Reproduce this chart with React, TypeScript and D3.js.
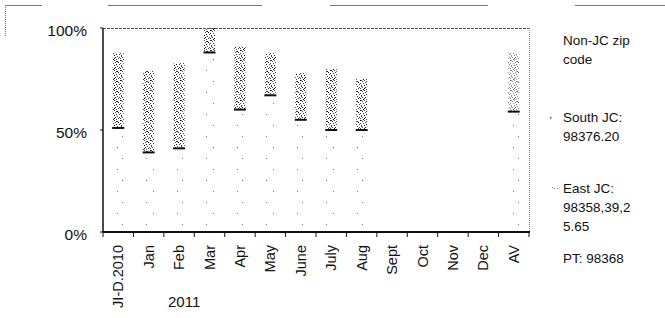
import React from "react";
import * as d3 from "d3";

const categories = ["JI-D.2010", "Jan", "Feb", "Mar", "Apr", "May", "June", "July", "Aug", "Sept", "Oct", "Nov", "Dec", "AV"];
// stacked shares in %, bottom to top
const pt = [1, 1, 1, 1, 1, 1, 1, 1, 1, 0, 0, 0, 0, 1];
const eastJC = [50, 38, 40, 87, 59, 66, 54, 49, 49, 0, 0, 0, 0, 58];
const southJC = [37, 40, 42, 12, 31, 21, 23, 30, 25, 0, 0, 0, 0, 29];
const nonJC = [12, 21, 17, 0, 9, 12, 22, 20, 25, 0, 0, 0, 0, 12];
const yTicks = [0, 50, 100];

const keys = ["PT", "East JC", "South JC", "Non-JC"];
const rows = categories.map((c, i) => ({
  cat: c,
  "PT": pt[i],
  "East JC": eastJC[i],
  "South JC": southJC[i],
  "Non-JC": nonJC[i],
}));

const W = 665, H = 318;
const left = 103, right = 529, top = 28, bottom = 232;
const font = "'Liberation Sans', Arial, sans-serif";

// speckle dots for the scanned fills
const speckle = [
  [0, 0], [1, 0], [4, 0], [7, 1], [2, 1], [5, 2], [8, 2], [0, 3], [3, 3], [6, 4], [9, 4], [1, 5], [4, 5],
  [7, 6], [2, 7], [5, 7], [8, 8], [0, 8], [3, 9], [6, 9], [9, 7], [4, 8], [1, 6], [6, 1],
];
const sparse = [[2, 4], [9, 15]];

const fills: Record<string, string> = {
  "PT": "#ffffff",
  "East JC": "url(#sparse)",
  "South JC": "url(#speckle)",
  "Non-JC": "#ffffff",
};

export default function App() {
  const x = d3.scaleBand().domain(categories).range([left, right]);
  const y = d3.scaleLinear().domain([0, 100]).range([bottom, top]);
  const stacked = d3.stack<any>().keys(keys)(rows);
  const bw = 11;

  const legend = [
    { key: "Non-JC", lines: ["Non-JC zip", "code"], y: 45 },
    { key: "South JC", lines: ["South JC:", "98376.20"], y: 122 },
    { key: "East JC", lines: ["East JC:", "98358,39,2", "5.65"], y: 193 },
    { key: "PT", lines: ["PT: 98368"], y: 263 },
  ];

  return (
    <svg width={W} height={H} style={{ position: "absolute", left: 0, top: 0, background: "#fff" }}>
      <defs>
        <pattern id="speckle" width={10} height={10} patternUnits="userSpaceOnUse">
          {speckle.map(([a, b], i) => (
            <rect key={i} x={a} y={b} width={1} height={1} fill={i % 3 === 0 ? "#111" : "#444"} />
          ))}
        </pattern>
        <pattern id="sparse" width={12} height={22} patternUnits="userSpaceOnUse">
          {sparse.map(([a, b], i) => (
            <rect key={i} x={a} y={b} width={1} height={1} fill="#777" />
          ))}
        </pattern>
      </defs>

      {/* scanned frame fragments */}
      <g stroke="#777" strokeWidth={1}>
        <line x1={5} x2={42} y1={5.5} y2={5.5} />
        <line x1={5.5} x2={5.5} y1={5} y2={36} strokeDasharray="1 1" />
        <line x1={108} x2={262} y1={5.5} y2={5.5} />
        <line x1={330} x2={488} y1={5.5} y2={5.5} />
        <line x1={575} x2={665} y1={5.5} y2={5.5} />
      </g>

      {/* bars */}
      {stacked.map((s) => (
        <g key={s.key}>
          {s.map((d, i) => {
            const v = d[1] - d[0];
            if (v <= 0) return null;
            const cx = (x(categories[i]) as number) + x.bandwidth() / 2;
            return (
              <rect
                key={i}
                x={cx - bw / 2}
                y={y(d[1])}
                width={bw}
                height={y(d[0]) - y(d[1])}
                fill={fills[s.key]}
                opacity={categories[i] === "AV" && s.key === "South JC" ? 0.6 : 1}
              />
            );
          })}
        </g>
      ))}
      {/* dark edge at bottom of South JC segment */}
      {stacked[2].map((d, i) => {
        if (d[1] - d[0] <= 0) return null;
        const cx = (x(categories[i]) as number) + x.bandwidth() / 2;
        return <line key={i} x1={cx - 6} x2={cx + 6} y1={y(d[0])} y2={y(d[0])} stroke="#111" strokeWidth={2} />;
      })}

      {/* plot border */}
      <line x1={left} x2={right} y1={top + 0.5} y2={top + 0.5} stroke="#555" strokeDasharray="3 1" />
      <line x1={right + 0.5} x2={right + 0.5} y1={top} y2={bottom} stroke="#888" strokeDasharray="1 1" />

      {/* y axis */}
      <line x1={left} x2={left} y1={top} y2={bottom} stroke="#111" strokeWidth={1.5} />
      {yTicks.map((t) => (
        <g key={t}>
          <line x1={left - 3} x2={left} y1={y(t)} y2={y(t)} stroke="#111" />
          <text x={87} y={y(t) + 8} textAnchor="end" fontFamily={font} fontSize={15.5} fill="#111">
            {t}%
          </text>
        </g>
      ))}

      {/* x axis */}
      <line x1={left} x2={right + 1} y1={bottom} y2={bottom} stroke="#111" strokeWidth={2} />
      {categories.map((c, i) => {
        const x0 = x(c) as number;
        const cx = x0 + x.bandwidth() / 2;
        return (
          <g key={c}>
            <line x1={x0} x2={x0} y1={bottom} y2={bottom + 5} stroke="#111" />
            {i === categories.length - 1 && (
              <line x1={right} x2={right} y1={bottom} y2={bottom + 5} stroke="#111" />
            )}
            <text
              transform={`translate(${cx + 5},${bottom + 13}) rotate(-90)`}
              textAnchor="end"
              fontFamily={font}
              fontSize={14.5}
              fill="#111"
            >
              {c}
            </text>
          </g>
        );
      })}
      <text x={168} y={307} fontFamily={font} fontSize={15} fill="#111">2011</text>

      {/* legend */}
      {legend.map((l) => (
        <g key={l.key}>
          {l.key === "South JC" && <rect x={550} y={l.y - 5} width={1.5} height={1.5} fill="#555" />}
          {l.key === "East JC" && (
            <g fill="#777">
              <rect x={552} y={l.y - 6} width={1} height={1} />
              <rect x={554} y={l.y - 5} width={1} height={1} />
              <rect x={557} y={l.y - 5} width={1} height={1} />
            </g>
          )}
          {l.lines.map((t, j) => (
            <text key={j} x={563} y={l.y + j * 19} fontFamily={font} fontSize={13.5} fill="#111">
              {t}
            </text>
          ))}
        </g>
      ))}
    </svg>
  );
}
